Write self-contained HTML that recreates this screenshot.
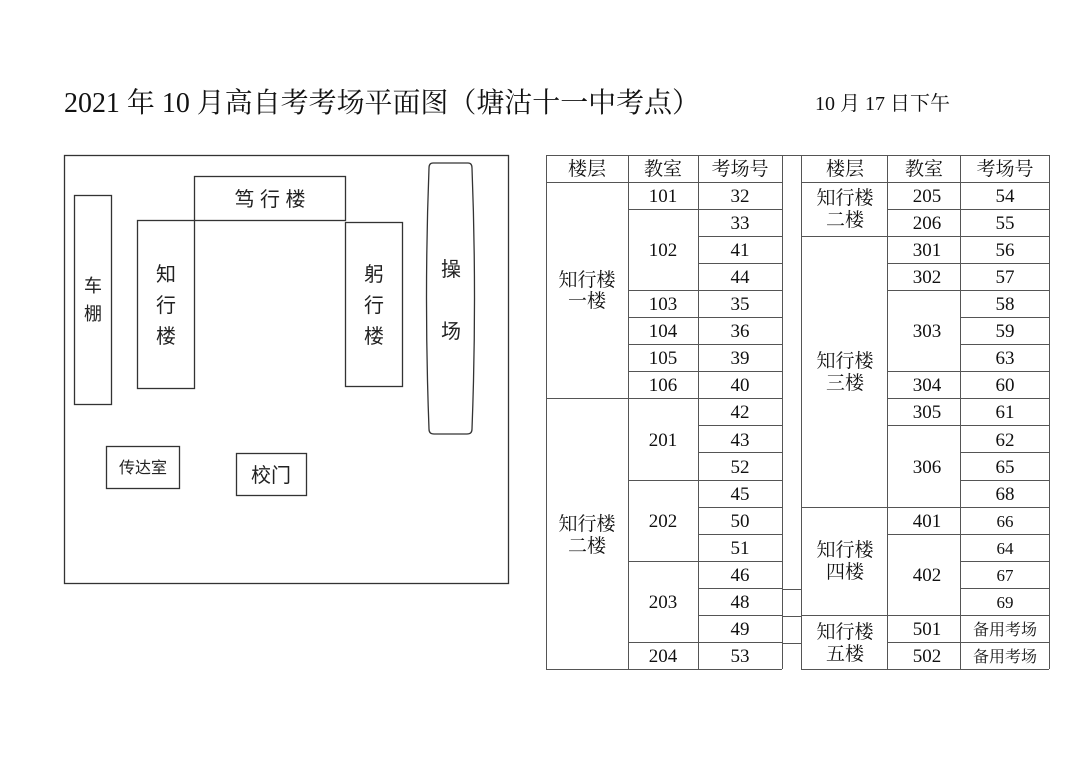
<!DOCTYPE html>
<html><head><meta charset="utf-8"><style>
html,body{margin:0;padding:0;background:#fff;}
svg{display:block;}
.t{font-family:"Liberation Serif","Noto Serif CJK SC",serif;fill:#111;}
.s{font-family:"Liberation Sans","Noto Sans CJK SC",sans-serif;fill:#222;}
</style></head><body>
<svg width="1080" height="764" viewBox="0 0 1080 764" xmlns="http://www.w3.org/2000/svg">
<text x="64" y="112" class="t" font-size="28" textLength="636" lengthAdjust="spacingAndGlyphs">2021 年 10 月高自考考场平面图（塘沽十一中考点）</text>
<text x="815" y="110" class="t" font-size="20">10 月 17 日下午</text>
<g fill="none" stroke="#333" stroke-width="1.3">
<rect x="64.5" y="155.5" width="444" height="428"/>
<rect x="194.5" y="176.5" width="151" height="44"/>
<rect x="137.5" y="220.5" width="57" height="168"/>
<rect x="345.5" y="222.5" width="57" height="164"/>
<rect x="74.5" y="195.5" width="37" height="209"/>
<path d="M433,163 L468,163 Q472,163 472,168 Q477,298 472,429 Q472,434 467,434 L434,434 Q429,434 429,429 Q424,298 429,168 Q429,163 433,163 Z"/>
<rect x="106.5" y="446.5" width="73" height="42"/>
<rect x="236.5" y="453.5" width="70" height="42"/>
</g>
<g class="s" font-size="20" text-anchor="middle">
<text x="270" y="206">笃 行 楼</text>
<text x="166" y="281">知</text><text x="166" y="312">行</text><text x="166" y="343">楼</text>
<text x="374" y="281">躬</text><text x="374" y="312">行</text><text x="374" y="343">楼</text>
<text x="451" y="276">操</text><text x="451" y="338">场</text>
<text x="93" y="292" font-size="18">车</text><text x="93" y="320" font-size="18">棚</text>
<text x="143" y="473" font-size="16">传达室</text>
<text x="271" y="482" font-size="20">校门</text>
</g>
<g stroke="#555" stroke-width="1" fill="none">
<line x1="546" y1="155.5" x2="1049" y2="155.5"/>
<line x1="546" y1="182.5" x2="782" y2="182.5"/>
<line x1="801" y1="182.5" x2="1049" y2="182.5"/>
<line x1="546.5" y1="155" x2="546.5" y2="669"/>
<line x1="628.5" y1="155" x2="628.5" y2="669"/>
<line x1="698.5" y1="155" x2="698.5" y2="669"/>
<line x1="782.5" y1="155" x2="782.5" y2="669"/>
<line x1="801.5" y1="155" x2="801.5" y2="669"/>
<line x1="887.5" y1="155" x2="887.5" y2="669"/>
<line x1="960.5" y1="155" x2="960.5" y2="669"/>
<line x1="1049.5" y1="155" x2="1049.5" y2="669"/>
<line x1="546" y1="669.5" x2="782" y2="669.5"/>
<line x1="801" y1="669.5" x2="1049" y2="669.5"/>
<line x1="782" y1="589.5" x2="801" y2="589.5"/>
<line x1="782" y1="616.5" x2="801" y2="616.5"/>
<line x1="782" y1="643.5" x2="801" y2="643.5"/>
<line x1="628" y1="209.5" x2="782" y2="209.5"/>
<line x1="698" y1="236.5" x2="782" y2="236.5"/>
<line x1="698" y1="263.5" x2="782" y2="263.5"/>
<line x1="628" y1="290.5" x2="782" y2="290.5"/>
<line x1="628" y1="317.5" x2="782" y2="317.5"/>
<line x1="628" y1="344.5" x2="782" y2="344.5"/>
<line x1="628" y1="371.5" x2="782" y2="371.5"/>
<line x1="546" y1="398.5" x2="782" y2="398.5"/>
<line x1="698" y1="425.5" x2="782" y2="425.5"/>
<line x1="698" y1="452.5" x2="782" y2="452.5"/>
<line x1="628" y1="480.5" x2="782" y2="480.5"/>
<line x1="698" y1="507.5" x2="782" y2="507.5"/>
<line x1="698" y1="534.5" x2="782" y2="534.5"/>
<line x1="628" y1="561.5" x2="782" y2="561.5"/>
<line x1="698" y1="588.5" x2="782" y2="588.5"/>
<line x1="698" y1="615.5" x2="782" y2="615.5"/>
<line x1="628" y1="642.5" x2="782" y2="642.5"/>
<line x1="887" y1="209.5" x2="1049" y2="209.5"/>
<line x1="801" y1="236.5" x2="1049" y2="236.5"/>
<line x1="887" y1="263.5" x2="1049" y2="263.5"/>
<line x1="887" y1="290.5" x2="1049" y2="290.5"/>
<line x1="960" y1="317.5" x2="1049" y2="317.5"/>
<line x1="960" y1="344.5" x2="1049" y2="344.5"/>
<line x1="887" y1="371.5" x2="1049" y2="371.5"/>
<line x1="887" y1="398.5" x2="1049" y2="398.5"/>
<line x1="887" y1="425.5" x2="1049" y2="425.5"/>
<line x1="960" y1="452.5" x2="1049" y2="452.5"/>
<line x1="960" y1="480.5" x2="1049" y2="480.5"/>
<line x1="801" y1="507.5" x2="1049" y2="507.5"/>
<line x1="887" y1="534.5" x2="1049" y2="534.5"/>
<line x1="960" y1="561.5" x2="1049" y2="561.5"/>
<line x1="960" y1="588.5" x2="1049" y2="588.5"/>
<line x1="801" y1="615.5" x2="1049" y2="615.5"/>
<line x1="887" y1="642.5" x2="1049" y2="642.5"/>
</g>
<g class="t" font-size="19" text-anchor="middle">
<text x="587" y="175">楼层</text><text x="663" y="175">教室</text><text x="740" y="175">考场号</text>
<text x="845" y="175">楼层</text><text x="924" y="175">教室</text><text x="1005" y="175">考场号</text>
<text x="587" y="286">知行楼</text><text x="587" y="307">一楼</text>
<text x="587" y="530">知行楼</text><text x="587" y="552">二楼</text>
<text x="845" y="204">知行楼</text><text x="845" y="226">二楼</text>
<text x="845" y="367">知行楼</text><text x="845" y="389">三楼</text>
<text x="845" y="556">知行楼</text><text x="845" y="578">四楼</text>
<text x="845" y="638">知行楼</text><text x="845" y="660">五楼</text>
<text x="663" y="202">101</text><text x="663" y="256">102</text><text x="663" y="310">103</text><text x="663" y="337">104</text><text x="663" y="364">105</text><text x="663" y="391">106</text>
<text x="663" y="446">201</text><text x="663" y="527">202</text><text x="663" y="608">203</text><text x="663" y="662">204</text>
<text x="740" y="202">32</text><text x="740" y="229">33</text><text x="740" y="256">41</text><text x="740" y="283">44</text><text x="740" y="310">35</text><text x="740" y="337">36</text><text x="740" y="364">39</text><text x="740" y="391">40</text><text x="740" y="418">42</text><text x="740" y="446">43</text><text x="740" y="473">52</text><text x="740" y="500">45</text><text x="740" y="527">50</text><text x="740" y="554">51</text><text x="740" y="581">46</text><text x="740" y="608">48</text><text x="740" y="635">49</text><text x="740" y="662">53</text>
<text x="927" y="202">205</text><text x="927" y="229">206</text><text x="927" y="256">301</text><text x="927" y="283">302</text><text x="927" y="337">303</text><text x="927" y="391">304</text><text x="927" y="418">305</text><text x="927" y="473">306</text><text x="927" y="527">401</text><text x="927" y="581">402</text><text x="927" y="635">501</text><text x="927" y="662">502</text>
<text x="1005" y="202">54</text><text x="1005" y="229">55</text><text x="1005" y="256">56</text><text x="1005" y="283">57</text><text x="1005" y="310">58</text><text x="1005" y="337">59</text><text x="1005" y="364">63</text><text x="1005" y="391">60</text><text x="1005" y="418">61</text><text x="1005" y="446">62</text><text x="1005" y="473">65</text><text x="1005" y="500">68</text>
<text x="1005" y="527" font-size="17">66</text><text x="1005" y="554" font-size="17">64</text><text x="1005" y="581" font-size="17">67</text><text x="1005" y="608" font-size="17">69</text>
<text x="1005" y="635" font-size="16">备用考场</text><text x="1005" y="662" font-size="16">备用考场</text>
</g>
</svg>
</body></html>
